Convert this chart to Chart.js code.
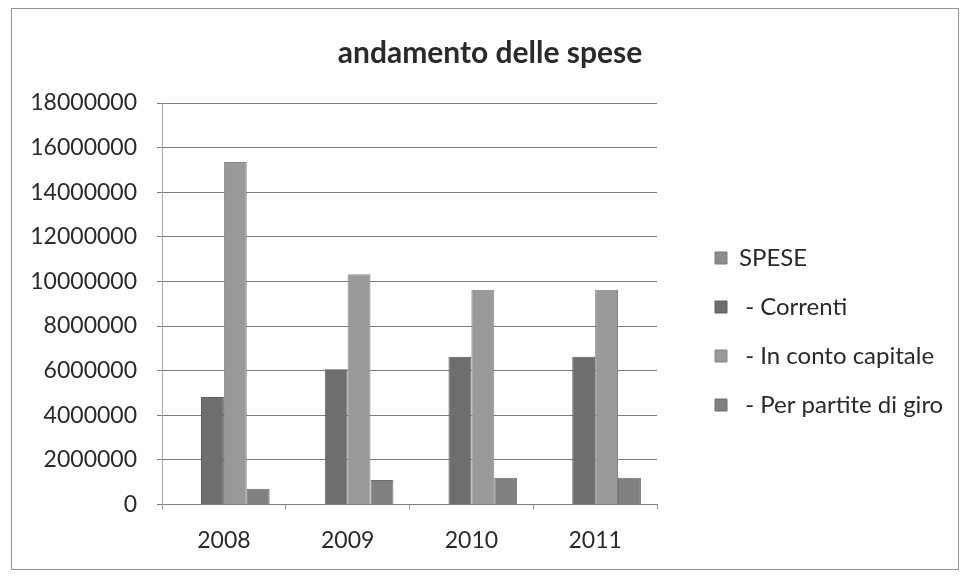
<!DOCTYPE html>
<html>
<head>
<meta charset="utf-8">
<script src="https://cdn.jsdelivr.net/npm/chart.js@4/dist/chart.umd.min.js"></script>
<style>
  html, body { margin: 0; padding: 0; background: #ffffff; }
  #wrap { position: relative; width: 960px; height: 582px; }
  #frame { position: absolute; left: 11px; top: 8px; width: 946px; height: 560px; border: 1px solid #959595; pointer-events: none; }
  canvas { position: absolute; left: 0; top: 0; }
</style>
</head>
<body>
<div id="wrap">
  <canvas id="c" width="960" height="582"></canvas>
  <div id="frame"></div>
</div>
<script>
const categories = ['2008', '2009', '2010', '2011'];
const seriesNames = ['SPESE', ' - Correnti', ' - In conto capitale', ' - Per partite di giro'];
const spese = [null, null, null, null];
const correnti = [4820000, 6060000, 6620000, 6620000];
const contoCapitale = [15350000, 10320000, 9630000, 9630000];
const partiteGiro = [700000, 1090000, 1200000, 1200000];
const yTicks = [0, 2000000, 4000000, 6000000, 8000000, 10000000, 12000000, 14000000, 16000000, 18000000];

const FONT = 'Lato, "Open Sans", sans-serif';
const LEGEND_SIZE = 24;
const LEGEND_PAD = 25;
const BOX = 12;

// layout helpers: legend swatches start at x=715, plot area spans x=162..657,
// title centred near x=490
const mctx = document.createElement('canvas').getContext('2d');
mctx.font = LEGEND_SIZE + 'px ' + FONT;
const maxText = Math.max(...seriesNames.map(s => mctx.measureText(s).width));
const legendWidth = LEGEND_PAD + BOX + LEGEND_SIZE / 2 + maxText + 10;
const legendLeft = 715 - LEGEND_PAD;
const rightPad = Math.max(0, 960 - legendLeft - legendWidth);
const gapWidth = legendLeft - 657;
const leftPad = Math.max(0, 980 - (960 - rightPad));
const yAxisWidth = 162 - leftPad;

new Chart(document.getElementById('c'), {
  type: 'bar',
  data: {
    labels: categories,
    datasets: [
      { label: seriesNames[0], data: spese, backgroundColor: '#8c8c8c', borderColor: '#7a7a7a', borderWidth: 1 },
      { label: seriesNames[1], data: correnti, backgroundColor: '#6e6e6e', borderColor: '#5e5e5e', borderWidth: 1 },
      { label: seriesNames[2], data: contoCapitale, backgroundColor: '#999999', borderColor: '#878787', borderWidth: 1 },
      { label: seriesNames[3], data: partiteGiro, backgroundColor: '#808080', borderColor: '#6e6e6e', borderWidth: 1 }
    ]
  },
  options: {
    responsive: false,
    animation: false,
    devicePixelRatio: 1,
    layout: { padding: { left: leftPad, right: rightPad, top: 0, bottom: 11 } },
    datasets: { bar: { categoryPercentage: 0.74, barPercentage: 1.0 } },
    plugins: {
      title: {
        display: true,
        text: 'andamento delle spese',
        color: '#2a2a2a',
        font: { family: FONT, size: 30, weight: 'bold', lineHeight: 1.2 },
        padding: { top: 35, bottom: 32 }
      },
      legend: {
        position: 'right',
        maxWidth: 600,
        title: { display: true, text: '', padding: { top: 46, bottom: 45 }, font: { size: 1, lineHeight: 1 } },
        labels: {
          color: '#2a2a2a',
          font: { family: FONT, size: LEGEND_SIZE },
          boxWidth: BOX,
          boxHeight: BOX,
          padding: LEGEND_PAD
        }
      },
      tooltip: { enabled: false }
    },
    scales: {
      x: {
        offset: true,
        grid: { display: true, drawOnChartArea: false, drawTicks: true, tickLength: 5, color: '#9a9a9a', offset: true },
        border: { display: true, color: '#808080', width: 1 },
        ticks: { color: '#2a2a2a', font: { family: FONT, size: 23 }, padding: 17, maxRotation: 0 }
      },
      y: {
        min: 0,
        max: 18000000,
        afterFit: (scale) => { scale.width = yAxisWidth; },
        afterBuildTicks: (scale) => { scale.ticks = yTicks.map(v => ({ value: v })); },
        grid: { color: '#7c7c7c', lineWidth: 1, drawTicks: true, tickLength: 5 },
        border: { display: true, color: '#aaaaaa', width: 1 },
        ticks: { color: '#2a2a2a', font: { family: FONT, size: 23 }, padding: 20, callback: (v) => String(v) }
      },
      yR: {
        position: 'right',
        display: true,
        afterFit: (scale) => { scale.width = gapWidth; },
        grid: { display: false, drawTicks: false },
        border: { display: false },
        ticks: { display: false }
      }
    }
  }
});
</script>
</body>
</html>
